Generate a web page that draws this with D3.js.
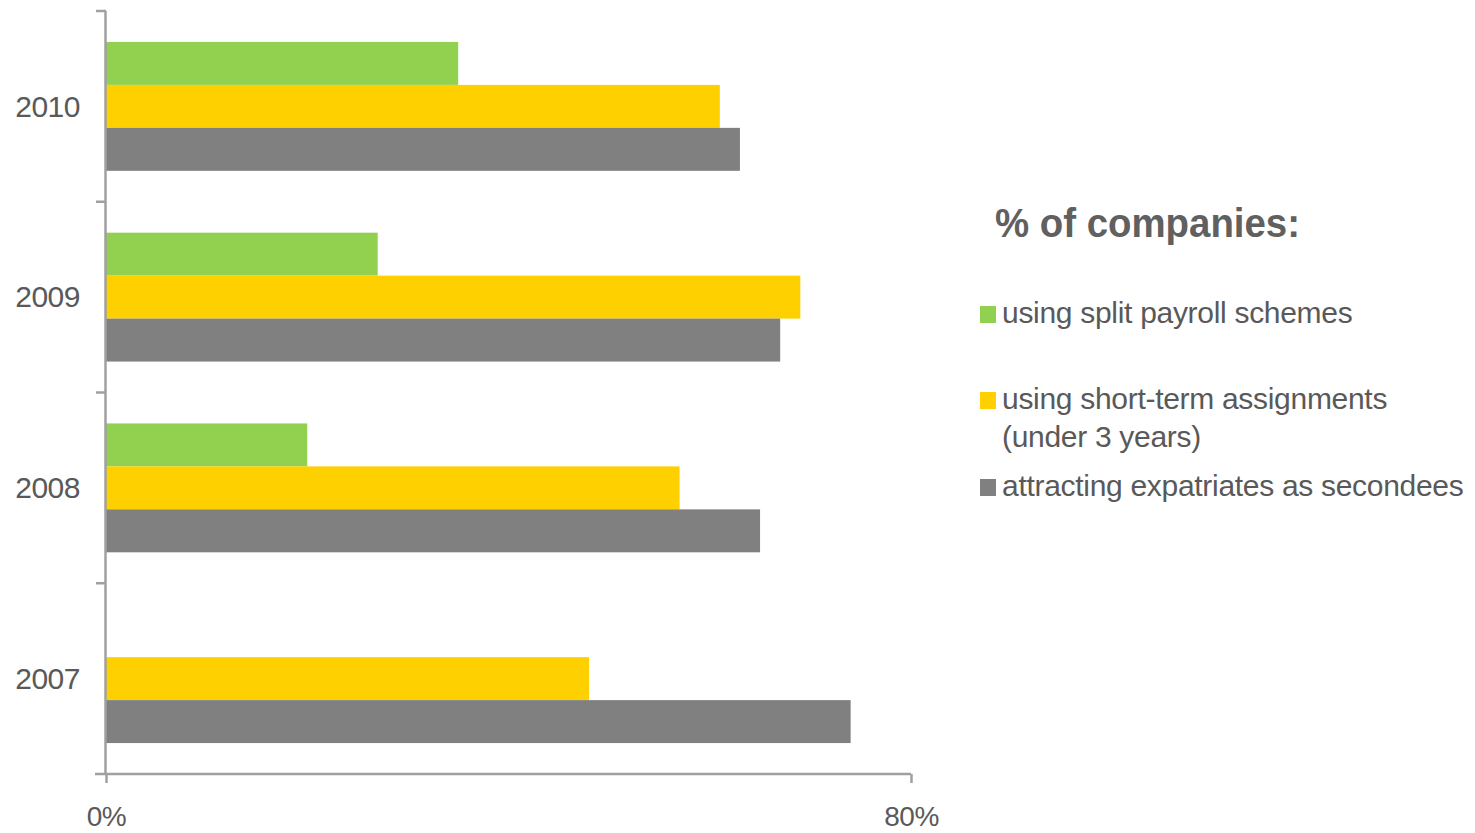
<!DOCTYPE html>
<html>
<head>
<meta charset="utf-8">
<script src="https://cdn.jsdelivr.net/npm/d3@7"></script>
<style>
  body { margin: 0; background: #fff; }
  svg { display: block; font-family: "Liberation Sans", Arial, sans-serif; }
</style>
</head>
<body>
<svg id="chart"></svg>
<script>
const years = ["2010", "2009", "2008", "2007"];
const seriesKeys = ["split", "short", "expat"];
const seriesNames = {
  split: ["using split payroll schemes"],
  short: ["using short-term assignments", "(under 3 years)"],
  expat: ["attracting expatriates as secondees"],
};
const colors = { split: "#92d050", short: "#ffd000", expat: "#808080" };

// % of companies, by year (2010, 2009, 2008, 2007)
const splitValues = [35, 27, 20, null];
const shortValues = [61, 69, 57, 48];
const expatValues = [63, 67, 65, 74];
const xTicks = [0, 80];

const width = 1475;
const height = 833;
const svg = d3.select("#chart").attr("width", width).attr("height", height);

const x = d3.scaleLinear().domain([0, 80]).range([106, 911]);
const y = d3.scaleBand().domain(years).range([11, 774]).padding(0);
const inner = d3
  .scaleBand()
  .domain(seriesKeys)
  .range([0, y.bandwidth()])
  .paddingInner(0)
  .paddingOuter(0.72);

const data = years.map((yr, i) => ({
  year: yr,
  split: splitValues[i],
  short: shortValues[i],
  expat: expatValues[i],
}));

const axisColor = "#a0a0a0";
const textColor = "#595959";

// bars
const groups = svg
  .append("g")
  .selectAll("g")
  .data(data)
  .join("g")
  .attr("transform", (d) => `translate(0,${y(d.year)})`);

groups
  .selectAll("rect")
  .data((d) => seriesKeys.filter((k) => d[k] != null).map((k) => ({ key: k, value: d[k] })))
  .join("rect")
  .attr("x", x(0))
  .attr("y", (d) => inner(d.key))
  .attr("width", (d) => x(d.value) - x(0))
  .attr("height", inner.bandwidth())
  .attr("fill", (d) => colors[d.key]);

// left axis: line, ticks at band boundaries, year labels
const leftAxis = svg.append("g");
leftAxis
  .append("line")
  .attr("x1", x(0) - 0.5)
  .attr("x2", x(0) - 0.5)
  .attr("y1", y.range()[0])
  .attr("y2", y.range()[1])
  .attr("stroke", axisColor)
  .attr("stroke-width", 2.5);
leftAxis
  .selectAll("line.tick")
  .data(years)
  .join("line")
  .attr("class", "tick")
  .attr("x1", x(0) - 10)
  .attr("x2", x(0))
  .attr("y1", (d) => y(d))
  .attr("y2", (d) => y(d))
  .attr("stroke", axisColor)
  .attr("stroke-width", 2.5);
leftAxis
  .selectAll("text")
  .data(years)
  .join("text")
  .attr("x", x(0) - 26)
  .attr("y", (d) => y(d) + y.bandwidth() / 2)
  .attr("dy", "0.34em")
  .attr("text-anchor", "end")
  .attr("fill", textColor)
  .style("font-size", "30px")
  .style("letter-spacing", "-0.5px")
  .text((d) => d);

// bottom axis
const bottom = svg
  .append("g")
  .attr("transform", `translate(0,${y.range()[1]})`)
  .call(
    d3
      .axisBottom(x)
      .tickValues(xTicks)
      .tickFormat((d) => d + "%")
      .tickSizeInner(9)
      .tickSizeOuter(0)
      .tickPadding(23)
  );
bottom.select(".domain").remove();
bottom
  .append("line")
  .attr("x1", x(0) - 11)
  .attr("x2", x(80))
  .attr("stroke", axisColor)
  .attr("stroke-width", 2.5);
bottom.selectAll(".tick line").attr("stroke", axisColor).attr("stroke-width", 2.5);
bottom
  .selectAll(".tick text")
  .attr("fill", textColor)
  .style("font-size", "28px")
  .style("font-family", "'Liberation Sans', Arial, sans-serif")
  .style("letter-spacing", "-0.5px");

// legend
const legend = svg.append("g").attr("transform", "translate(980,0)");
legend
  .append("text")
  .attr("x", 15)
  .attr("y", 237)
  .attr("fill", "#606060")
  .style("font-size", "40px")
  .style("font-weight", "bold")
  .attr("textLength", 305)
  .attr("lengthAdjust", "spacingAndGlyphs")
  .text("% of companies:");

const legendY = { split: 323, short: 409, expat: 496 };
const items = legend
  .selectAll("g.item")
  .data(seriesKeys)
  .join("g")
  .attr("class", "item")
  .attr("transform", (k) => `translate(0,${legendY[k]})`);
items
  .append("rect")
  .attr("x", 0)
  .attr("y", -17)
  .attr("width", 16)
  .attr("height", 17)
  .attr("fill", (k) => colors[k]);
items
  .append("text")
  .attr("fill", textColor)
  .style("font-size", "30px")
  .style("letter-spacing", "-0.3px")
  .selectAll("tspan")
  .data((k) => seriesNames[k])
  .join("tspan")
  .attr("x", 22)
  .attr("y", (d, i) => i * 38)
  .text((d) => d);
</script>
</body>
</html>
